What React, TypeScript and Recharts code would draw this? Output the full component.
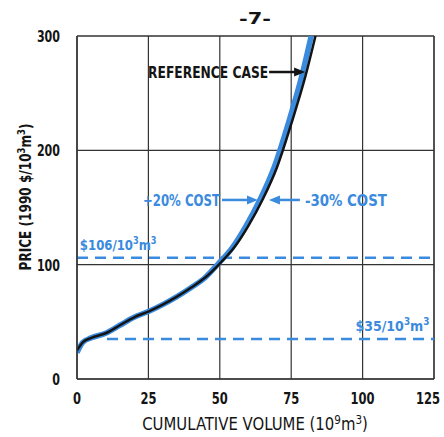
import {
  LineChart,
  Line,
  XAxis,
  YAxis,
  CartesianGrid,
  ReferenceLine,
  ReferenceDot,
} from "recharts";

const FONT = "'Liberation Sans Narrow', 'DejaVu Sans Condensed', Arial, sans-serif";
const BLUE = "#3a8ade";
const INK = "#141414";

// reference case supply curve (volume 10^9 m3 -> price $/10^3 m3)
const refVolume = [0, 2, 5, 10, 15, 20, 25, 30, 35, 40, 45, 50, 55, 60, 65, 70, 75, 80, 83.5];
const refPrice = [25, 32, 36, 40, 47, 54, 59, 65, 72, 80, 89, 101, 115, 134, 157, 185, 223, 265, 300];

// +20% / -30% cost cases (almost on top of each other)
const costVolume = [0, 2, 5, 10, 15, 20, 25, 30, 35, 40, 45, 49.5, 54.4, 59.2, 64.1, 69, 73.9, 78.7, 82];
const costPrice = [23, 32, 36, 40, 47, 54, 59, 65, 72, 80, 89, 101, 115, 134, 157, 185, 223, 265, 300];

const xTicks = [0, 25, 50, 75, 100, 125];
const yTicks = [0, 100, 200, 300];

const highPrice = 106;
const lowPrice = 35;
const lowPriceStart = 10.5;

const refData = refVolume.map((v, i) => ({ volume: v, price: refPrice[i] }));
const costData = costVolume.map((v, i) => ({ volume: v, price: costPrice[i] }));

const Sup = ({ children }: { children: string }) => (
  <tspan dy={-6} fontSize="0.7em">
    {children}
  </tspan>
);

const arrowHead = (x: number, y: number, dir: 1 | -1, color: string) => (
  <polygon
    points={`${x},${y} ${x - dir * 11},${y - 4.5} ${x - dir * 11},${y + 4.5}`}
    fill={color}
  />
);

const squeeze = (len: number) => ({ textLength: len, lengthAdjust: "spacingAndGlyphs" as const });

// "$xx/10^3 m^3" label, narrowed with a horizontal scale
const UnitLabel = ({ x, y, text, sx }: { x: number; y: number; text: string; sx: number }) => (
  <g transform={`translate(${x},${y}) scale(${sx},1)`}>
    <text x={0} y={0} fill={BLUE} fontFamily={FONT} fontWeight="bold" fontSize={14}>
      {text}/10<Sup>3</Sup>
      <tspan dy={6}>m</tspan>
      <Sup>3</Sup>
    </text>
  </g>
);

export default function App() {
  return (
    <div style={{ position: "absolute", left: 0, top: 0, width: 444, height: 437, background: "#fff" }}>
      <LineChart
        width={444}
        height={437}
        margin={{ top: 36, right: 10, bottom: 28, left: 37 }}
      >
        <CartesianGrid stroke="#333" strokeWidth={1.2} />
        <XAxis
          type="number"
          dataKey="volume"
          domain={[0, 125]}
          ticks={xTicks}
          height={30}
          tickLine={false}
          axisLine={{ stroke: "#333", strokeWidth: 1.5 }}
          allowDataOverflow
          tick={({ x, y, payload }: any) => {
            // the last label sits against the right edge, pull it in a little
            const cx = payload.value === 125 ? 428 : x;
            return (
              <g transform={`translate(${cx},${y + 17}) scale(0.8,1)`}>
                <text x={0} y={0} textAnchor="middle" fill={INK} fontFamily={FONT} fontWeight="bold" fontSize={16}>
                  {payload.value}
                </text>
              </g>
            );
          }}
        />
        <YAxis
          type="number"
          domain={[0, 300]}
          ticks={yTicks}
          width={40}
          tickLine={false}
          axisLine={{ stroke: "#333", strokeWidth: 1.5 }}
          allowDataOverflow
          tick={({ x, y, payload }: any) => (
            <text
              x={x - 9}
              y={y + 6}
              textAnchor="end"
              fill={INK}
              fontFamily={FONT}
              fontWeight="bold"
              fontSize={16}
              {...squeeze(String(payload.value).length * 7.7)}
            >
              {payload.value}
            </text>
          )}
        />
        <ReferenceLine y={300} stroke="#333" strokeWidth={1.2} />
        <ReferenceLine x={125} stroke="#333" strokeWidth={1.2} />
        <ReferenceLine
          y={highPrice}
          stroke={BLUE}
          strokeWidth={2.5}
          strokeDasharray="11 7"
        />
        <ReferenceLine
          segment={[
            { x: lowPriceStart, y: lowPrice },
            { x: 125, y: lowPrice },
          ]}
          stroke={BLUE}
          strokeWidth={2.5}
          strokeDasharray="11 7"
        />
        <Line
          data={costData}
          dataKey="price"
          type="monotone"
          stroke={BLUE}
          strokeWidth={5.5}
          dot={false}
          isAnimationActive={false}
        />
        <Line
          data={refData}
          dataKey="price"
          type="monotone"
          stroke={INK}
          strokeWidth={2.5}
          dot={false}
          isAnimationActive={false}
        />
        {/* price labels */}
        <ReferenceDot
          x={1}
          y={highPrice + 7}
          r={0}
          shape={({ cx, cy }: any) => <UnitLabel x={cx} y={cy} text="$106" sx={0.93} />}
        />
        <ReferenceDot
          x={97.5}
          y={lowPrice + 7}
          r={0}
          shape={({ cx, cy }: any) => <UnitLabel x={cx} y={cy} text="$35" sx={1} />}
        />
        {/* cost case labels */}
        <ReferenceDot
          x={23.1}
          y={156.6}
          r={0}
          shape={({ cx, cy }: any) => (
            <g>
              <text x={cx} y={cy + 6} fill={BLUE} fontFamily={FONT} fontWeight="bold" fontSize={16} {...squeeze(77)}>
                +20% COST
              </text>
              <line x1={cx + 79} y1={cy} x2={cx + 106} y2={cy} stroke={BLUE} strokeWidth={2.5} />
              {arrowHead(cx + 115, cy, 1, BLUE)}
            </g>
          )}
        />
        <ReferenceDot
          x={79.8}
          y={156.6}
          r={0}
          shape={({ cx, cy }: any) => (
            <g>
              <text x={cx} y={cy + 6} fill={BLUE} fontFamily={FONT} fontWeight="bold" fontSize={16} {...squeeze(82)}>
                -30% COST
              </text>
              <line x1={cx - 5} y1={cy} x2={cx - 27} y2={cy} stroke={BLUE} strokeWidth={2.5} />
              {arrowHead(cx - 36, cy, -1, BLUE)}
            </g>
          )}
        />
        <ReferenceDot
          x={24.9}
          y={268.5}
          r={0}
          shape={({ cx, cy }: any) => (
            <g>
              <text x={cx} y={cy + 6} fill={INK} fontFamily={FONT} fontWeight="bold" fontSize={16} {...squeeze(120)}>
                REFERENCE CASE
              </text>
              <line x1={cx + 121} y1={cy} x2={cx + 148} y2={cy} stroke={INK} strokeWidth={2.5} />
              {arrowHead(cx + 157, cy, 1, INK)}
            </g>
          )}
        />
      </LineChart>
      <svg
        width={444}
        height={437}
        style={{ position: "absolute", left: 0, top: 0, pointerEvents: "none" }}
      >
        <text x={255} y={24} textAnchor="middle" fill={INK} fontFamily={FONT} fontWeight="bold" fontSize={15} {...squeeze(32)}>
          -7-
        </text>
        <g transform="translate(255,430) scale(0.92,1)">
          <text x={0} y={0} textAnchor="middle" fill={INK} fontFamily={FONT} fontSize={18}>
            CUMULATIVE VOLUME (10<Sup>9</Sup>
            <tspan dy={6}>m</tspan>
            <Sup>3</Sup>
            <tspan dy={6}>)</tspan>
          </text>
        </g>
        <g transform="translate(31,197) rotate(-90) scale(0.84,1)">
          <text x={0} y={0} textAnchor="middle" fill={INK} fontFamily={FONT} fontWeight="bold" fontSize={16}>
            PRICE (1990 $/10<Sup>3</Sup>
            <tspan dy={6}>m</tspan>
            <Sup>3</Sup>
            <tspan dy={6}>)</tspan>
          </text>
        </g>
      </svg>
    </div>
  );
}
